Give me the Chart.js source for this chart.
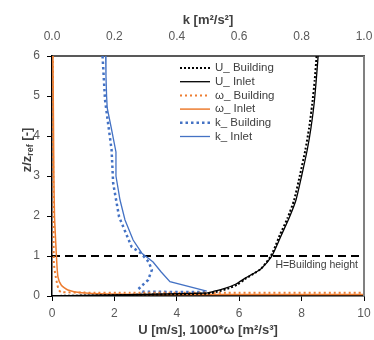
<!DOCTYPE html>
<html><head><meta charset="utf-8">
<script src="https://cdn.jsdelivr.net/npm/chart.js@4"></script>
<style>html,body{margin:0;padding:0;background:#fff}</style>
</head><body>
<canvas id="c" width="374" height="340" style="width:374px;height:340px"></canvas>
<script>
// ---- data (z/zref heights and values) ----
const uInletZ    = [0, 0.07, 0.12, 0.19, 0.3, 0.44, 0.56, 0.69, 0.98, 1.25, 1.52, 1.95, 2.4, 3.0, 3.65, 4.2, 4.8, 5.4, 6];
const uInletU    = [0, 4.9, 5.2, 5.54, 5.9, 6.18, 6.45, 6.71, 7.03, 7.2, 7.35, 7.6, 7.82, 8.0, 8.18, 8.3, 8.4, 8.47, 8.53];
const uBuildZ    = [0, 0.06, 0.11, 0.18, 0.29, 0.43, 0.55, 0.68, 0.98, 1.25, 1.52, 1.95, 2.4, 3.0, 3.65, 4.2, 4.8, 5.4, 6];
const uBuildU    = [0, 5.0, 5.3, 5.62, 5.95, 6.2, 6.45, 6.7, 7.0, 7.16, 7.3, 7.55, 7.76, 7.94, 8.12, 8.24, 8.34, 8.42, 8.48];
const wInletZ    = [6, 5, 4, 3, 2, 1.65, 1.02, 0.48, 0.27, 0.15, 0.08, 0.05, 0.04, 0.04, 0.04];
const wInletW    = [0.03, 0.04, 0.05, 0.06, 0.08, 0.1, 0.14, 0.19, 0.3, 0.51, 0.94, 1.8, 3, 6, 10];
const wBuildZ    = [6, 5, 4, 3, 2, 1.5, 0.82, 0.57, 0.32, 0.15, 0.1, 0.085, 0.08, 0.08, 0.08];
const wBuildW    = [0.02, 0.03, 0.03, 0.04, 0.05, 0.05, 0.06, 0.1, 0.16, 0.22, 0.3, 1.0, 2.5, 6, 10];
const kInletZ    = [6, 5.5, 5, 4.7, 4.2, 3.6, 3.0, 2.4, 1.9, 1.4, 1.07, 0.85, 0.6, 0.36, 0.12];
const kInletK    = [0.172, 0.173, 0.175, 0.177, 0.19, 0.205, 0.205, 0.218, 0.234, 0.26, 0.288, 0.324, 0.35, 0.378, 0.496];
const kBuildZ    = [6, 4.9, 3.65, 2.82, 1.98, 1.23, 1.07, 0.85, 0.65, 0.4, 0.2, 0.11, 0.1, 0.1];
const kBuildK    = [0.162, 0.17, 0.191, 0.196, 0.215, 0.255, 0.285, 0.31, 0.32, 0.308, 0.28, 0.29, 0.4, 0.5];
const buildingHeight = 1;
const xTicksBottom = [0, 2, 4, 6, 8, 10];
const xTicksTop = [0, 0.2, 0.4, 0.6, 0.8, 1.0];
const yTicks = [0, 1, 2, 3, 4, 5, 6];
const seriesLabels = ['U_ Building', 'U_ Inlet', 'ω_ Building', 'ω_ Inlet', 'k_ Building', 'k_ Inlet'];

const pts = (xs, zs) => xs.map((v, i) => ({x: v, y: zs[i]}));
const ORANGE = '#ED7D31', BLUE = '#4472C4';

const datasets = [
  {label: seriesLabels[0], data: pts(uBuildU, uBuildZ), borderColor: '#000', borderWidth: 2, borderDash: [2, 2], xAxisID: 'x', tension: 0.2},
  {label: seriesLabels[1], data: pts(uInletU, uInletZ), borderColor: '#000', borderWidth: 1.3, xAxisID: 'x', tension: 0.2},
  {label: seriesLabels[2], data: pts(wBuildW, wBuildZ), borderColor: ORANGE, borderWidth: 2, borderDash: [2, 3], xAxisID: 'x', tension: 0.2},
  {label: seriesLabels[3], data: pts(wInletW, wInletZ), borderColor: ORANGE, borderWidth: 1.5, xAxisID: 'x', tension: 0.2},
  {label: seriesLabels[4], data: pts(kBuildK, kBuildZ), borderColor: BLUE, borderWidth: 2.5, borderDash: [2.5, 3], xAxisID: 'x2', tension: 0},
  {label: seriesLabels[5], data: pts(kInletK, kInletZ), borderColor: BLUE, borderWidth: 1.3, xAxisID: 'x2', tension: 0},
  {label: '', data: [{x: 0, y: buildingHeight}, {x: 10, y: buildingHeight}], borderColor: '#000', borderWidth: 2, borderDash: [8, 5], xAxisID: 'x', tension: 0}
];
datasets.forEach(d => { d.showLine = true; d.pointRadius = 0; d.fill = false; d.backgroundColor = d.borderColor; });

const TXT = '#404040', TICK = '#595959', FF = '"Liberation Sans", Arial, sans-serif';

const decor = {
  id: 'decor',
  afterDatasetsDraw(chart) {
    const {ctx, chartArea: a} = chart;
    ctx.save();
    // right frame
    ctx.strokeStyle = '#808080'; ctx.lineWidth = 2; ctx.setLineDash([]);
    ctx.beginPath(); ctx.moveTo(a.right, a.top); ctx.lineTo(a.right, a.bottom); ctx.stroke();
    // building height text
    ctx.fillStyle = TXT; ctx.font = '10.5px ' + FF; ctx.textAlign = 'right'; ctx.textBaseline = 'middle';
    const yH = chart.scales.y.getPixelForValue(buildingHeight);
    ctx.fillText('H=Building height', a.right - 6, yH + 9);
    // legend
    const lx = a.left + 128, ly = a.top + 12, dy = 13.7;
    ctx.font = '11.5px ' + FF; ctx.textAlign = 'left';
    chart.data.datasets.forEach((d, i) => {
      if (!d.label) return;
      const y = ly + i * dy;
      ctx.strokeStyle = d.borderColor; ctx.lineWidth = d.borderWidth; ctx.setLineDash(d.borderDash || []);
      ctx.beginPath(); ctx.moveTo(lx, y); ctx.lineTo(lx + 30, y); ctx.stroke();
      ctx.setLineDash([]);
      ctx.fillStyle = TXT; ctx.fillText(d.label, lx + 35, y);
    });
    ctx.restore();
  },
  afterDraw(chart) {
    const {ctx, chartArea: a} = chart;
    ctx.save();
    ctx.fillStyle = TXT; ctx.textAlign = 'center'; ctx.textBaseline = 'middle';
    ctx.font = 'bold 13px ' + FF;
    ctx.fillText('k [m²/s²]', (a.left + a.right) / 2, 20);
    ctx.fillText('U [m/s], 1000*ω [m²/s³]', (a.left + a.right) / 2, 330);
    // left title with subscript
    ctx.translate(27, 150); ctx.rotate(-Math.PI / 2);
    const big = 'bold 13px ' + FF, small = 'bold 9px ' + FF;
    ctx.font = big; const w1 = ctx.measureText('z/z').width, w3 = ctx.measureText(' [-]').width;
    ctx.font = small; const w2 = ctx.measureText('ref').width;
    let x = -(w1 + w2 + w3) / 2;
    ctx.textAlign = 'left';
    ctx.font = big; ctx.fillText('z/z', x, 0); x += w1;
    ctx.font = small; ctx.fillText('ref', x, 4); x += w2;
    ctx.font = big; ctx.fillText(' [-]', x, 0);
    ctx.restore();
  }
};

const noPad = s => { s.paddingLeft = 0; s.paddingRight = 0; };

new Chart(document.getElementById('c'), {
  type: 'scatter',
  data: {datasets},
  options: {
    responsive: false, animation: false,
    layout: {padding: {right: 10, left: 0, top: 0, bottom: 0}},
    plugins: {legend: {display: false}, tooltip: {enabled: false}},
    scales: {
      x: {
        type: 'linear', position: 'bottom', min: 0, max: 10,
        afterBuildTicks: s => { s.ticks = xTicksBottom.map(v => ({value: v})); },
        afterFit: s => { s.height = 44; noPad(s); },
        ticks: {color: TICK, font: {size: 12, family: FF}, padding: 5, maxRotation: 0},
        grid: {drawOnChartArea: false, tickLength: 5, color: '#000'},
        border: {color: '#000', width: 1.5}
      },
      x2: {
        type: 'linear', position: 'top', min: 0, max: 1,
        afterBuildTicks: s => { s.ticks = xTicksTop.map(v => ({value: v})); },
        afterFit: s => { s.height = 56; noPad(s); },
        ticks: {color: TICK, font: {size: 12, family: FF}, padding: 12, maxRotation: 0, callback: v => v.toFixed(1)},
        grid: {drawOnChartArea: false, drawTicks: false},
        border: {color: '#595959', width: 2}
      },
      y: {
        type: 'linear', position: 'left', min: 0, max: 6,
        afterBuildTicks: s => { s.ticks = yTicks.map(v => ({value: v})); },
        afterFit: s => { s.width = 52; s.paddingTop = 0; s.paddingBottom = 0; },
        ticks: {color: TICK, font: {size: 12, family: FF}, padding: 7},
        grid: {drawOnChartArea: false, tickLength: 5, color: '#000'},
        border: {color: '#000', width: 1.5}
      }
    }
  },
  plugins: [decor]
});
</script>
</body></html>
